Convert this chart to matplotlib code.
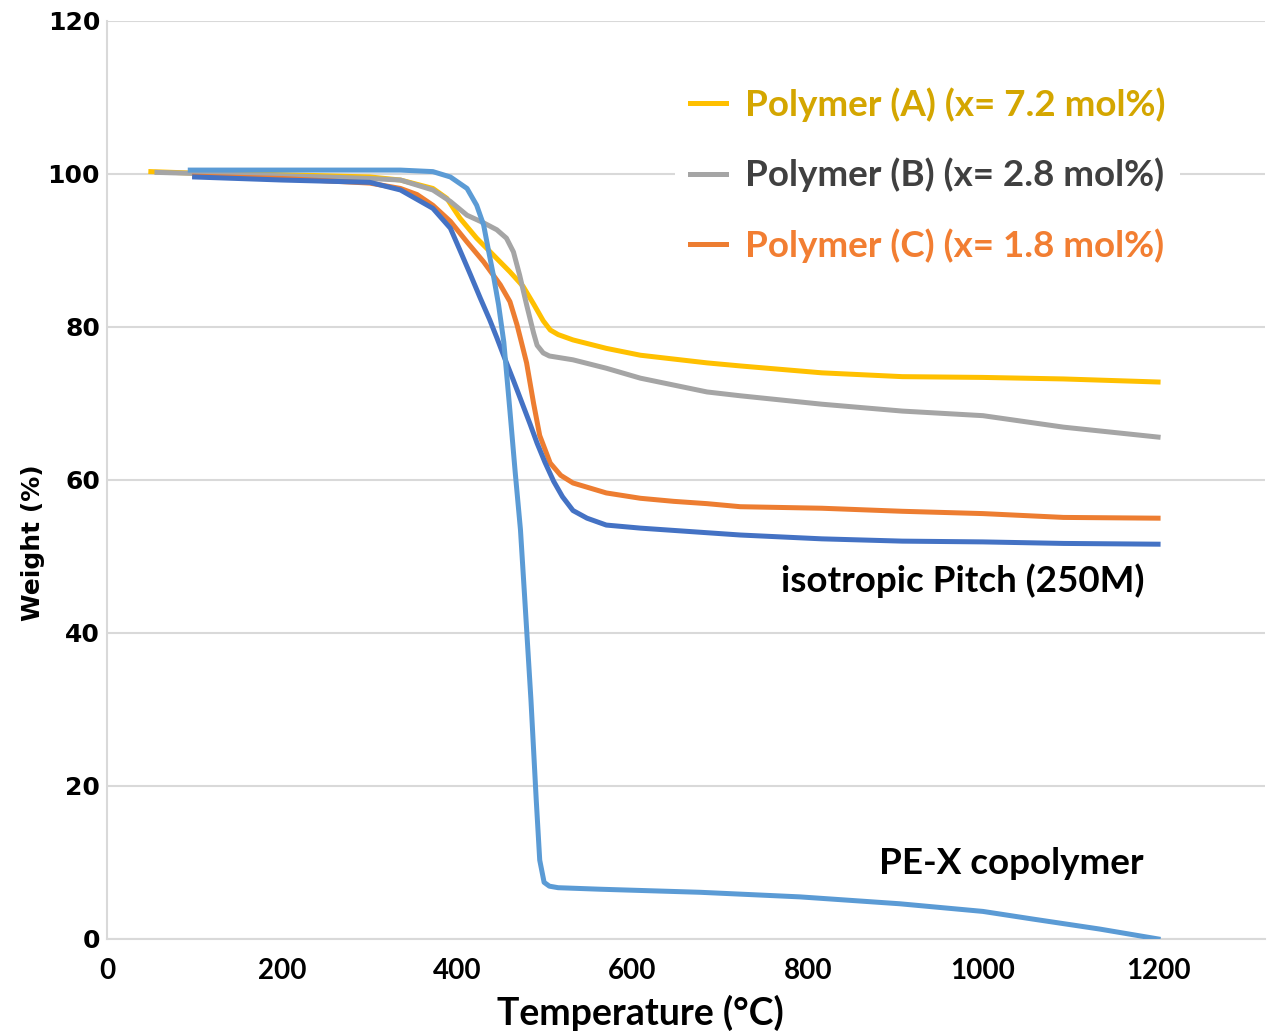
import matplotlib
matplotlib.use('Agg')
from matplotlib import pyplot as plt

# ---- data (temperature in degC, weight in %) ----
t_a = [50, 100, 200, 300, 335, 372, 388, 403, 422, 441, 460, 475, 487, 498, 506, 515,
       532, 570, 609, 647, 685, 723, 816, 908, 1000, 1092, 1200]
w_a = [100.3, 100.1, 99.9, 99.6, 99.2, 98.1, 96.8, 94.2, 91.6, 89.4, 87.2, 85.3, 83.0,
       80.8, 79.6, 79.0, 78.3, 77.2, 76.3, 75.8, 75.3, 74.9, 74.0, 73.5, 73.4, 73.2, 72.8]

t_b = [57, 150, 250, 300, 335, 372, 392, 411, 430, 445, 456, 464, 471, 479, 487, 491,
       498, 505, 532, 570, 609, 647, 685, 723, 816, 908, 1000, 1092, 1200]
w_b = [100.2, 99.9, 99.6, 99.4, 99.2, 97.9, 96.4, 94.6, 93.6, 92.7, 91.6, 89.8, 86.8,
       82.9, 79.2, 77.6, 76.6, 76.2, 75.7, 74.6, 73.3, 72.4, 71.5, 71.0, 69.9, 69.0,
       68.4, 66.9, 65.6]

t_c = [100, 200, 300, 335, 354, 372, 392, 411, 430, 449, 460, 468, 472, 479, 487, 494,
       506, 518, 532, 570, 609, 647, 685, 723, 816, 908, 1000, 1092, 1200]
w_c = [99.7, 99.4, 98.8, 98.1, 97.3, 95.9, 93.8, 91.1, 88.5, 85.5, 83.3, 80.3, 78.5,
       75.3, 70.0, 65.8, 62.2, 60.6, 59.6, 58.3, 57.6, 57.2, 56.9, 56.5, 56.3, 55.9,
       55.6, 55.1, 55.0]

t_pitch = [100, 200, 300, 335, 372, 392, 403, 415, 426, 437, 445, 453, 464, 472, 483,
           491, 500, 510, 520, 532, 548, 570, 609, 647, 723, 816, 908, 1000, 1092, 1200]
w_pitch = [99.6, 99.2, 98.9, 97.9, 95.5, 92.9, 90.0, 86.8, 83.8, 80.9, 78.6, 76.2, 73.0,
           70.6, 67.3, 64.8, 62.3, 59.8, 57.8, 56.0, 55.0, 54.1, 53.7, 53.4, 52.8, 52.3,
           52.0, 51.9, 51.7, 51.6]

t_pex = [95, 200, 300, 335, 372, 392, 411, 422, 430, 435, 441, 447, 453, 460, 466, 472,
         477, 484, 490, 494, 499, 505, 515, 563, 677, 791, 905, 1000, 1057, 1133, 1200]
w_pex = [100.5, 100.5, 100.5, 100.5, 100.3, 99.6, 98.1, 95.9, 93.3, 90.3, 86.8, 82.9,
         78.0, 69.0, 61.0, 53.5, 44.3, 31.2, 18.2, 10.3, 7.4, 6.9, 6.7, 6.5, 6.1, 5.5,
         4.6, 3.6, 2.6, 1.3, 0.0]

labels = ['Polymer (A) (x= 7.2 mol%)', 'Polymer (B) (x= 2.8 mol%)',
          'Polymer (C) (x= 1.8 mol%)']
x_ticks = [0, 200, 400, 600, 800, 1000, 1200]
y_ticks = [0, 20, 40, 60, 80, 100, 120]

c_a, c_b, c_c = '#FFC000', '#A5A5A5', '#ED7D31'
c_pitch, c_pex = '#4472C4', '#5B9BD5'
grid_c = '#D9D9D9'

fig = plt.figure(figsize=(12.7, 10.35), dpi=100)
ax = fig.add_axes([0.0843, 0.0928, 0.9117, 0.887])

lw = 3.6
la, = ax.plot(t_a, w_a, color=c_a, lw=lw, zorder=3)
lb, = ax.plot(t_b, w_b, color=c_b, lw=lw, zorder=3)
lc, = ax.plot(t_c, w_c, color=c_c, lw=lw, zorder=3)
ax.plot(t_pitch, w_pitch, color=c_pitch, lw=lw, zorder=3)
ax.plot(t_pex, w_pex, color=c_pex, lw=lw, zorder=4)

ax.set_xlim(0, 1322)
ax.set_ylim(0, 120)
ax.set_xticks(x_ticks)
ax.set_yticks(y_ticks)
ax.yaxis.grid(True, color=grid_c, lw=1.5)
ax.set_axisbelow(True)
for s in ['top', 'right']:
    ax.spines[s].set_visible(False)
for s in ['left', 'bottom']:
    ax.spines[s].set_color(grid_c)
    ax.spines[s].set_linewidth(1.5)
ax.tick_params(length=0)
ax.tick_params(axis='y', pad=5)
ax.tick_params(axis='x', pad=14)
for lab in ax.get_yticklabels():
    lab.set_fontsize(18)
    lab.set_fontweight('bold')
    lab.set_family('DejaVu Sans')
for lab in ax.get_xticklabels():
    lab.set_fontsize(20)
    lab.set_fontweight('bold')
    lab.set_family('Lato')

ax.set_ylabel('Weight (%)', fontsize=18, fontweight='bold')
ax.yaxis.set_label_coords(-0.054, 0.432)
ax.set_xlabel('Temperature (°C)', fontsize=27, fontweight='bold', family='Lato')
ax.xaxis.set_label_coords(0.461, -0.061)

leg = ax.legend([la, lb, lc], labels, loc='upper right', bbox_to_anchor=(0.9425, 0.964),
                frameon=True, framealpha=1, edgecolor='white', handlelength=1.0,
                handletextpad=0.5, labelspacing=0.98,
                prop={'family': 'Lato', 'weight': 'bold', 'size': 26.5})
leg.get_frame().set_linewidth(0)
for txt, col in zip(leg.get_texts(), ['#D4A600', '#404040', '#F27E32']):
    txt.set_color(col)

ax.text(1185, 46.8, 'isotropic Pitch (250M)', ha='right', va='center',
        fontsize=26.5, fontweight='bold', family='Lato')
ax.text(1183, 9.9, 'PE-X copolymer', ha='right', va='center',
        fontsize=26.5, fontweight='bold', family='Lato')

fig.savefig('out.png', dpi=100)
